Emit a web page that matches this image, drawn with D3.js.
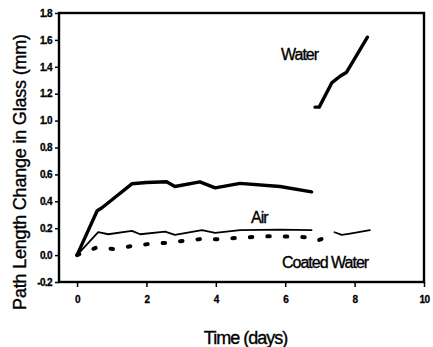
<!DOCTYPE html>
<html>
<head>
<meta charset="utf-8">
<script src="https://cdn.jsdelivr.net/npm/d3@7"></script>
<style>
  body { margin: 0; background: #fff; }
  svg { display: block; font-family: "Liberation Sans", Arial, sans-serif; }
</style>
</head>
<body>
<svg id="chart" width="433" height="347"></svg>
<script>
// values (days, mm)
const waterDays1 = [0, 0.58, 0.71, 1.58, 2.0, 2.58, 2.82, 3.54, 3.98, 4.7, 5.85, 6.76];
const waterVals1 = [0, 0.33, 0.35, 0.53, 0.54, 0.545, 0.51, 0.545, 0.50, 0.533, 0.51, 0.47];
const waterDays2 = [6.86, 6.98, 7.34, 7.58, 7.77, 8.37];
const waterVals2 = [1.10, 1.10, 1.28, 1.33, 1.36, 1.62];

const airDays1 = [0, 0.61, 0.9, 1.58, 1.82, 2.54, 2.82, 3.6, 3.98, 4.7, 5.85, 6.76];
const airVals1 = [0, 0.17, 0.155, 0.18, 0.155, 0.175, 0.15, 0.186, 0.166, 0.186, 0.19, 0.186];
const airDays2 = [7.42, 7.63, 7.87, 8.44];
const airVals2 = [0.17, 0.15, 0.16, 0.186];

const coatedDays = [0, 0.57, 1.05, 1.58, 2.05, 2.58, 3.08, 3.62, 4.12, 4.65, 5.16, 5.66, 6.4, 6.75, 6.95, 7.05];
const coatedVals = [0, 0.057, 0.045, 0.067, 0.082, 0.091, 0.106, 0.121, 0.117, 0.129, 0.136, 0.141, 0.135, 0.13, 0.11, 0.12];

const xTicks = [0, 2, 4, 6, 8, 10];
const yTicks = [-0.2, 0.0, 0.2, 0.4, 0.6, 0.8, 1.0, 1.2, 1.4, 1.6, 1.8];

const zip = (xs, ys) => xs.map((x, i) => [x, ys[i]]);

const svg = d3.select("#chart");
const mLeft = 59, mRight = 424, mTop = 13, mBottom = 282;

const x = d3.scaleLinear().domain([-0.52, 10]).range([mLeft, mRight]);
const y = d3.scaleLinear().domain([-0.2, 1.8]).range([mBottom, mTop]);

// frame
svg.append("rect")
  .attr("x", mLeft).attr("y", mTop)
  .attr("width", mRight - mLeft).attr("height", mBottom - mTop)
  .attr("fill", "none").attr("stroke", "#000").attr("stroke-width", 2.4);

// axes
const xAxis = svg.append("g")
  .attr("transform", `translate(0,${mBottom})`)
  .call(d3.axisBottom(x).tickValues(xTicks).tickSize(5).tickPadding(9).tickFormat(d3.format("d")));
const yAxis = svg.append("g")
  .attr("transform", `translate(${mLeft},0)`)
  .call(d3.axisLeft(y).tickValues(yTicks).tickSize(4).tickPadding(3).tickFormat(d3.format(".1f")));

[xAxis, yAxis].forEach(a => {
  a.select(".domain").remove();
  a.selectAll(".tick line").attr("stroke", "#000").attr("stroke-width", 1.5);
  a.selectAll(".tick text")
    .attr("fill", "#000")
    .attr("font-size", 10)
    .attr("font-weight", "bold")
    .attr("letter-spacing", -0.6)
    .attr("stroke", "#000").attr("stroke-width", 0.3)
    .attr("font-family", "'Liberation Sans', Arial, sans-serif");
});
yAxis.selectAll(".tick text").text(d => d3.format(".1f")(d).replace("−", "-"));

const line = d3.line().x(d => x(d[0])).y(d => y(d[1]));

const plot = svg.append("g").attr("fill", "none").attr("stroke", "#000")
  .attr("stroke-linejoin", "round").attr("stroke-linecap", "round");

plot.append("path").datum(zip(waterDays1, waterVals1)).attr("d", line).attr("stroke-width", 3.4);
plot.append("path").datum(zip(waterDays2, waterVals2)).attr("d", line).attr("stroke-width", 3.4);
plot.append("path").datum(zip(airDays1, airVals1)).attr("d", line).attr("stroke-width", 1.8);
plot.append("path").datum(zip(airDays2, airVals2)).attr("d", line).attr("stroke-width", 1.8);
plot.append("path").datum(zip(coatedDays, coatedVals)).attr("d", line)
  .attr("stroke-width", 4).attr("stroke-dasharray", "2.5 15");

// labels in the plot
const lab = (t, px, py, size) => svg.append("text")
  .attr("x", px).attr("y", py).attr("font-size", size)
  .attr("letter-spacing", -1).attr("fill", "#000")
  .attr("stroke", "#000").attr("stroke-width", 0.35).text(t);
lab("Water", 281, 60, 16);
lab("Air", 251, 223, 16);
lab("Coated Water", 282, 268, 16);

// axis titles
svg.append("text")
  .attr("x", (mLeft + mRight) / 2 + 4).attr("y", 344)
  .attr("text-anchor", "middle").attr("font-size", 18).attr("letter-spacing", -1)
  .attr("stroke", "#000").attr("stroke-width", 0.35)
  .text("Time (days)");
svg.append("text")
  .attr("transform", "translate(26,172) rotate(-90)")
  .attr("text-anchor", "middle").attr("font-size", 18).attr("letter-spacing", -0.2)
  .attr("stroke", "#000").attr("stroke-width", 0.35)
  .text("Path Length Change in Glass (mm)");
</script>
</body>
</html>
